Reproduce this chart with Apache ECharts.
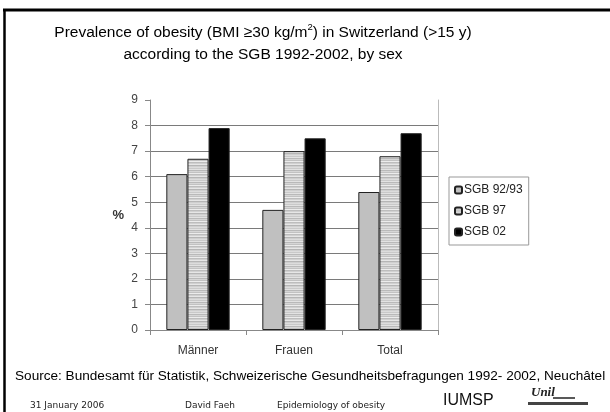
<!DOCTYPE html>
<html><head><meta charset="utf-8">
<script src="https://cdn.jsdelivr.net/npm/echarts@6/dist/echarts.min.js"></script>
<style>html,body{margin:0;padding:0;background:#fff}#c{width:610px;height:412px}</style>
</head><body><div id="c"></div>
<script>
var categories = ['Männer', 'Frauen', 'Total'];
var seriesNames = ['SGB 92/93', 'SGB 97', 'SGB 02'];
var sgb9293 = [6.1, 4.7, 5.4];
var sgb97 = [6.7, 7.0, 6.8];
var sgb02 = [7.9, 7.5, 7.7];
var yTicks = [0, 1, 2, 3, 4, 5, 6, 7, 8, 9];

// striped fill pattern
var pc = document.createElement('canvas');
pc.width = 8; pc.height = 12;
var pctx = pc.getContext('2d');
var rows = ['#c9c9c9','#e2e2e2','#b9b9b9','#d6d6d6','#c2c2c2','#ececec','#bdbdbd','#d0d0d0','#e6e6e6','#b5b5b5','#cfcfcf','#dcdcdc'];
rows.forEach(function(c, i){ pctx.fillStyle = c; pctx.fillRect(0, i, 8, 1); });

var chart = echarts.init(document.getElementById('c'), null, {renderer: 'canvas'});
var F = 'Liberation Sans, Arial, sans-serif';
var barStyle = function(color){ return {color: color, borderColor: '#222', borderWidth: 1}; };
chart.setOption({
  animation: false,
  backgroundColor: '#fff',
  title: {
    text: 'Prevalence of obesity (BMI \u226530 kg/m{sup|2}) in Switzerland (>15 y)\naccording to the SGB 1992-2002, by sex',
    left: 258, top: 17, textAlign: 'center',
    textStyle: {fontFamily: F, fontSize: 15.5, fontWeight: 'normal', color: '#000', lineHeight: 22,
      rich: {sup: {fontSize: 9.5, verticalAlign: 'top', lineHeight: 12, padding: [0, 0, 8, 0], fontFamily: F, color: '#000'}}}
  },
  legend: {
    orient: 'vertical', left: 449, top: 177,
    itemWidth: 7, itemHeight: 7, itemGap: 9,
    padding: [7, 6, 7, 5],
    borderColor: '#999', borderWidth: 1,
    textStyle: {fontFamily: F, fontSize: 12, color: '#222', padding: [0, 0, 0, -3]},
    data: seriesNames
  },
  grid: {left: 150, right: 172, top: 100, bottom: 82},
  xAxis: {
    type: 'category', data: categories,
    axisLine: {lineStyle: {color: '#888'}},
    axisTick: {show: true, length: 5, lineStyle: {color: '#888'}},
    axisLabel: {fontFamily: F, fontSize: 12, color: '#333', margin: 15}
  },
  yAxis: [{
    type: 'value', min: 0, max: 9, interval: 1,
    name: '%', nameLocation: 'middle', nameRotate: 0, nameGap: 26,
    nameTextStyle: {fontFamily: F, fontSize: 13, color: '#333', fontWeight: 'bold'},
    axisLine: {show: true, lineStyle: {color: '#888'}},
    axisTick: {show: true, length: 5, lineStyle: {color: '#888'}},
    axisLabel: {fontFamily: F, fontSize: 12, color: '#444', margin: 12,
      formatter: function(v){ return yTicks.indexOf(v) >= 0 ? String(v) : ''; }},
    splitLine: {show: true, lineStyle: {color: '#7a7a7a', width: 1}, showMaxLine: false}
  }, {
    type: 'value', min: 0, max: 9, interval: 1, position: 'right',
    axisLine: {show: true, lineStyle: {color: '#bbb'}},
    axisTick: {show: false}, axisLabel: {show: false}, splitLine: {show: false}
  }],
  series: [
    {name: seriesNames[0], type: 'bar', data: sgb9293, barGap: '0%', barCategoryGap: '34%', itemStyle: barStyle('#c0c0c0')},
    {name: seriesNames[1], type: 'bar', data: sgb97, itemStyle: barStyle({image: pc, repeat: 'repeat'})},
    {name: seriesNames[2], type: 'bar', data: sgb02, itemStyle: barStyle('#000')}
  ],
  graphic: [
    {type: 'line', shape: {x1: 3, y1: 10, x2: 610, y2: 10}, style: {stroke: '#000', lineWidth: 3}},
    {type: 'line', shape: {x1: 4.5, y1: 9, x2: 4.5, y2: 412}, style: {stroke: '#000', lineWidth: 2.5}},
    {type: 'text', left: 15, top: 369, style: {text: 'Source: Bundesamt f\u00fcr Statistik, Schweizerische Gesundheitsbefragungen 1992- 2002, Neuch\u00e2tel', font: '13.6px Liberation Sans, Arial, sans-serif', fill: '#000'}},
    {type: 'text', left: 30, top: 401, style: {text: '31 January 2006', font: '9px DejaVu Sans, sans-serif', fill: '#222'}},
    {type: 'text', left: 185, top: 401, style: {text: 'David Faeh', font: '9px DejaVu Sans, sans-serif', fill: '#222'}},
    {type: 'text', left: 277, top: 401, style: {text: 'Epidemiology of obesity', font: '9px DejaVu Sans, sans-serif', fill: '#222'}},
    {type: 'text', left: 443, top: 393, style: {text: 'IUMSP', font: '16px Liberation Sans, Arial, sans-serif', fill: '#111'}},
    {type: 'text', left: 531, top: 386, style: {text: 'Unil', font: 'italic bold 13px Liberation Serif, serif', fill: '#222'}},
    {type: 'line', shape: {x1: 553, y1: 398, x2: 575, y2: 398}, style: {stroke: '#222', lineWidth: 1.5}},
    {type: 'rect', shape: {x: 528, y: 402, width: 60, height: 3}, style: {fill: '#444'}}
  ]
});
</script></body></html>
